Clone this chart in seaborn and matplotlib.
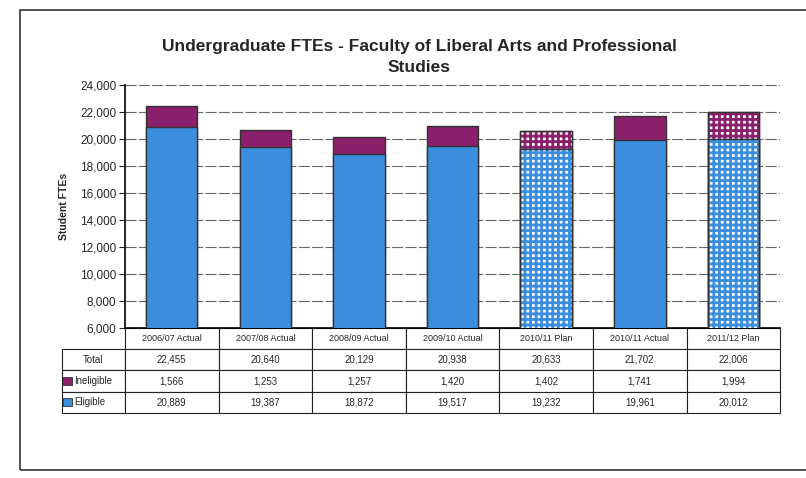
import matplotlib
matplotlib.use("Agg")
import matplotlib.pyplot as plt
from matplotlib.patches import Rectangle
import seaborn as sns
import pandas as pd

## dados do grafico
categorias = ["2006/07 Actual", "2007/08 Actual", "2008/09 Actual", "2009/10 Actual",
              "2010/11 Plan", "2010/11 Actual", "2011/12 Plan"]
total = [22455, 20640, 20129, 20938, 20633, 21702, 22006]
inelegivel = [1566, 1253, 1257, 1420, 1402, 1741, 1994]
elegivel = [20889, 19387, 18872, 19517, 19232, 19961, 20012]
plano = [False, False, False, False, True, False, True]

azul = "#3b8ede"
roxo = "#8a1f6b"

sns.set_style("white")
plt.rcParams["font.family"] = ["Liberation Sans", "DejaVu Sans"]
plt.rcParams["hatch.linewidth"] = 2.0

df = pd.DataFrame({"cat": categorias, "total": total, "elegivel": elegivel})

fig = plt.figure(figsize=(8.06, 4.78), dpi=100)
ax = fig.add_axes([0.155, 0.314, 0.813, 0.508])

# total (roxo) primeiro, depois elegivel por cima
sns.barplot(data=df, x="cat", y="total", color=roxo, saturation=1, width=0.55,
            edgecolor="#333333", linewidth=1, ax=ax, zorder=3)
sns.barplot(data=df, x="cat", y="elegivel", color=azul, saturation=1, width=0.55,
            edgecolor="#333333", linewidth=1, ax=ax, zorder=3)

n = len(categorias)
barras_total = ax.patches[:n]
barras_eleg = ax.patches[n:2 * n]
for i in range(n):
    if plano[i]:
        for p, cor in [(barras_total[i], roxo), (barras_eleg[i], azul)]:
            p.set_facecolor("white")
            p.set_edgecolor(cor)
            p.set_hatch("+++")
            ax.add_patch(Rectangle(p.get_xy(), p.get_width(), p.get_height(),
                                   fill=False, ec="#333333", lw=1, zorder=4))

ax.set_ylim(6000, 24000)
ax.set_yticks(range(6000, 24001, 2000))
ax.set_yticklabels([f"{v:,}" for v in range(6000, 24001, 2000)], fontsize=8.5)
ax.tick_params(axis="y", length=4, width=0.8, direction="out", left=True, pad=2)
ax.set_xticks([])
ax.set_xlabel("")
ax.set_ylabel("Student FTEs", fontsize=7.5, fontweight="bold", labelpad=8)
ax.grid(axis="y", color="#666666", linestyle=(0, (10, 2)), linewidth=0.8, zorder=0)
ax.set_axisbelow(True)
ax.spines["right"].set_visible(False)
ax.spines["top"].set_visible(False)
ax.spines["left"].set_linewidth(1.2)
ax.spines["bottom"].set_linewidth(1.2)
ax.spines["left"].set_color("black")
ax.spines["bottom"].set_color("black")

fig.text(0.52, 0.918, "Undergraduate FTEs - Faculty of Liberal Arts and Professional\nStudies",
         ha="center", va="top", fontsize=12.5, fontweight="bold", linespacing=1.5)

# tabela de dados
linhas = [[""] + categorias,
          ["Total"] + [f"{v:,}" for v in total],
          ["Ineligible"] + [f"{v:,}" for v in inelegivel],
          ["Eligible"] + [f"{v:,}" for v in elegivel]]
tab = ax.table(cellText=linhas, cellLoc="center",
               colWidths=[0.096] + [1.0 / n] * n,
               bbox=[-0.096, -0.35, 1.096, 0.35])
tab.auto_set_font_size(False)
for (r, c), cel in tab.get_celld().items():
    cel.set_linewidth(0.8)
    cel.set_edgecolor("#222222")
    cel.get_text().set_fontsize(7 if r > 0 else 6.5)
    if c == 0 and r > 1:
        cel.get_text().set_ha("left")
        cel.PAD = 0.2
    if r == 0 and c == 0:
        cel.visible_edges = ""

# quadradinhos da legenda
for y, cor in [(0.195, roxo), (0.151, azul)]:
    fig.patches.append(Rectangle((0.078, y), 0.011, 0.017, transform=fig.transFigure,
                                 facecolor=cor, edgecolor="#333333", lw=0.6))

# moldura externa
fig.patches.append(Rectangle((0.025, 0.017), 1.0, 0.962, transform=fig.transFigure,
                             fill=False, edgecolor="#333333", lw=1.2))

fig.savefig("out.png", dpi=100)
